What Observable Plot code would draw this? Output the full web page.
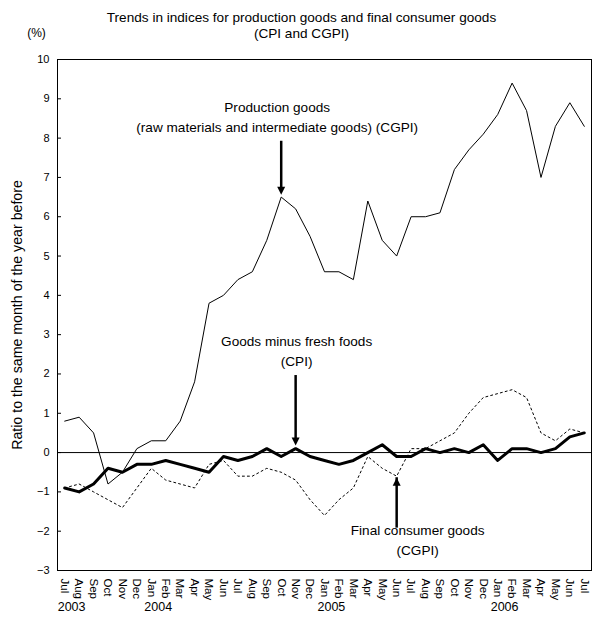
<!DOCTYPE html>
<html>
<head>
<meta charset="utf-8">
<script src="https://cdn.jsdelivr.net/npm/d3@7"></script>
<script src="https://cdn.jsdelivr.net/npm/@observablehq/plot@0.6"></script>
<style>
  body { margin: 0; background: #fff; }
</style>
</head>
<body>
<div id="chart"></div>
<script>
// Monthly periods, July 2003 – July 2006
const periods = [
  "2003-07","2003-08","2003-09","2003-10","2003-11","2003-12",
  "2004-01","2004-02","2004-03","2004-04","2004-05","2004-06",
  "2004-07","2004-08","2004-09","2004-10","2004-11","2004-12",
  "2005-01","2005-02","2005-03","2005-04","2005-05","2005-06",
  "2005-07","2005-08","2005-09","2005-10","2005-11","2005-12",
  "2006-01","2006-02","2006-03","2006-04","2006-05","2006-06",
  "2006-07"
];
const monthLabels = [
  "Jul","Aug","Sep","Oct","Nov","Dec",
  "Jan","Feb","Mar","Apr","May","Jun",
  "Jul","Aug","Sep","Oct","Nov","Dec",
  "Jan","Feb","Mar","Apr","May","Jun",
  "Jul","Aug","Sep","Oct","Nov","Dec",
  "Jan","Feb","Mar","Apr","May","Jun",
  "Jul"
];
const yearLabels = [
  { period: "2003-07", label: "2003" },
  { period: "2004-01", label: "2004" },
  { period: "2005-01", label: "2005" },
  { period: "2006-01", label: "2006" }
];

// Year-on-year change, %
const production = [
  0.8, 0.9, 0.5, -0.8, -0.5, 0.1, 0.3, 0.3, 0.8, 1.8, 3.8, 4.0,
  4.4, 4.6, 5.4, 6.5, 6.2, 5.5, 4.6, 4.6, 4.4, 6.4, 5.4, 5.0,
  6.0, 6.0, 6.1, 7.2, 7.7, 8.1, 8.6, 9.4, 8.7, 7.0, 8.3, 8.9,
  8.3
];
const goodsExFresh = [
  -0.9, -1.0, -0.8, -0.4, -0.5, -0.3, -0.3, -0.2, -0.3, -0.4, -0.5, -0.1,
  -0.2, -0.1, 0.1, -0.1, 0.1, -0.1, -0.2, -0.3, -0.2, 0.0, 0.2, -0.1,
  -0.1, 0.1, 0.0, 0.1, 0.0, 0.2, -0.2, 0.1, 0.1, 0.0, 0.1, 0.4,
  0.5
];
const finalConsumer = [
  -0.9, -0.8, -1.0, -1.2, -1.4, -0.9, -0.4, -0.7, -0.8, -0.9, -0.3, -0.2,
  -0.6, -0.6, -0.4, -0.5, -0.7, -1.2, -1.6, -1.2, -0.9, -0.1, -0.4, -0.6,
  0.1, 0.1, 0.3, 0.5, 1.0, 1.4, 1.5, 1.6, 1.4, 0.5, 0.3, 0.6,
  0.5
];

const yTicks = [-3, -2, -1, 0, 1, 2, 3, 4, 5, 6, 7, 8, 9, 10];

// Callout labels and arrows (y in % units)
const calloutText = [
  { period: "2004-10", y: 8.77, text: "Production goods", dx: -4 },
  { period: "2004-10", y: 8.26, text: "(raw materials and intermediate goods) (CGPI)", dx: -4 },
  { period: "2004-11", y: 2.81, text: "Goods minus fresh foods", dx: 1 },
  { period: "2004-11", y: 2.32, text: "(CPI)", dx: 1 },
  { period: "2005-06", y: -1.98, text: "Final consumer goods", dx: 21 },
  { period: "2005-06", y: -2.49, text: "(CGPI)", dx: 21 }
];
const calloutArrows = [
  { period: "2004-10", from: 7.92, to: 6.56 },
  { period: "2004-11", from: 1.96, to: 0.18 },
  { period: "2005-06", from: -1.77, to: -0.64 }
];

const rows = periods.map((p, i) => ({
  period: p,
  production: production[i],
  goodsExFresh: goodsExFresh[i],
  finalConsumer: finalConsumer[i]
}));

// Narrow filled arrowhead with its apex at the origin, pointing down
const arrowHead = {
  draw(context) {
    context.moveTo(0, 0);
    context.lineTo(-4, -8);
    context.lineTo(4, -8);
    context.closePath();
  }
};

const down = calloutArrows.filter(d => d.from > d.to);
const up = calloutArrows.filter(d => d.from < d.to);
const textSize = 13.6;

const chart = Plot.plot({
  width: 602,
  height: 620,
  marginTop: 59,
  marginBottom: 50,
  marginLeft: 57,
  marginRight: 11,
  style: {
    fontFamily: "'Liberation Sans', Arial, sans-serif",
    fontSize: "12px",
    background: "#fff",
    color: "#000"
  },
  x: { type: "point", domain: periods, padding: 0.5, round: false, axis: null },
  y: { domain: [-3, 10] },
  marks: [
    // titles
    Plot.text(["Trends in indices for production goods and final consumer goods"], {
      text: d => d, frameAnchor: "top", dx: -23, dy: -42, lineAnchor: "middle", fontSize: textSize
    }),
    Plot.text(["(CPI and CGPI)"], {
      text: d => d, frameAnchor: "top", dx: -23, dy: -26, lineAnchor: "middle", fontSize: textSize
    }),
    Plot.text(["(%)"], {
      text: d => d, frameAnchor: "top-left", dx: -21, dy: -26, textAnchor: "middle", lineAnchor: "middle", fontSize: 12
    }),

    // y axis
    Plot.axisY(yTicks, {
      tickSize: 0,
      tickPadding: 8,
      label: null,
      fontSize: 11
    }),
    Plot.text(["Ratio to the same month of the year before"], {
      text: d => d, frameAnchor: "left", dx: -40, rotate: -90,
      textAnchor: "middle", lineAnchor: "middle", fontSize: 14.2
    }),
    Plot.tickY(yTicks, { y: d => d, stroke: "#000", insetRight: 530 }),

    // x axis labels
    Plot.text(periods, {
      x: d => d, text: monthLabels, frameAnchor: "bottom",
      rotate: 90, textAnchor: "start", lineAnchor: "middle", dy: 8, fontSize: 11.5
    }),
    Plot.text(yearLabels, {
      x: "period", text: "label", frameAnchor: "bottom",
      textAnchor: "start", lineAnchor: "middle", dx: -7, dy: 36, fontSize: 12.5
    }),

    Plot.ruleY([0], { stroke: "#000", strokeWidth: 1 }),

    // series
    Plot.line(rows, { x: "period", y: "production", stroke: "#000", strokeWidth: 1 }),
    Plot.line(rows, { x: "period", y: "finalConsumer", stroke: "#000", strokeWidth: 1, strokeDasharray: "2,3" }),
    Plot.line(rows, { x: "period", y: "goodsExFresh", stroke: "#000", strokeWidth: 3 }),

    Plot.frame({ stroke: "#000" }),

    // callouts
    ...calloutText.map(d => Plot.text([d], {
      x: "period", y: "y", text: "text", dx: d.dx, lineAnchor: "middle", fontSize: textSize
    })),
    Plot.ruleX(down, { x: "period", y1: "from", y2: "to", stroke: "#000", strokeWidth: 2.5, insetBottom: 6 }),
    Plot.ruleX(up, { x: "period", y1: "from", y2: "to", stroke: "#000", strokeWidth: 2.5, insetTop: 6 }),
    Plot.dot(down, { x: "period", y: "to", symbol: arrowHead, fill: "#000", stroke: "none" }),
    Plot.dot(up, { x: "period", y: "to", symbol: arrowHead, rotate: 180, fill: "#000", stroke: "none" })
  ]
});

document.getElementById("chart").appendChild(chart);
</script>
</body>
</html>
